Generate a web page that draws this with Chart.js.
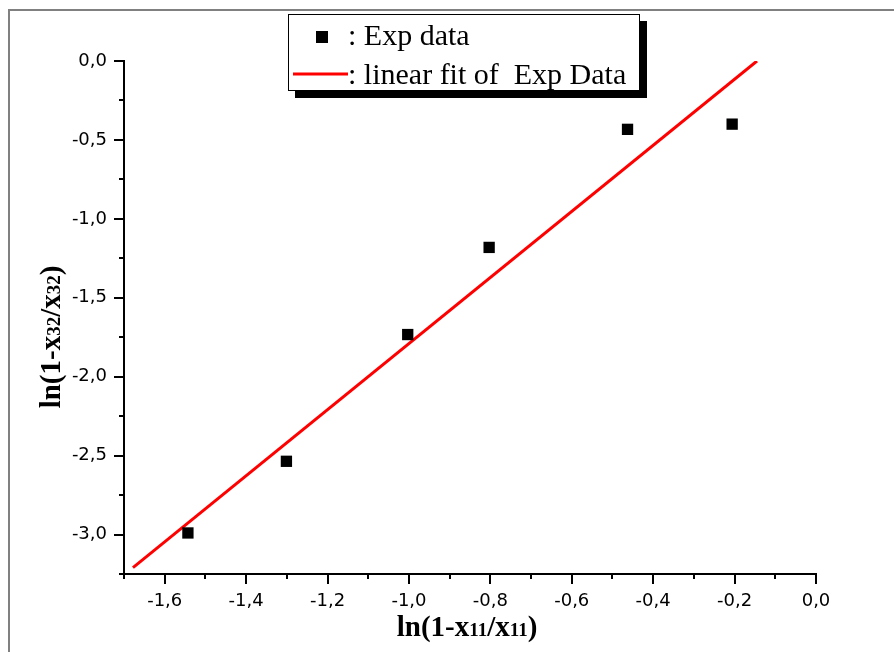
<!DOCTYPE html>
<html>
<head>
<meta charset="utf-8">
<script src="https://cdn.jsdelivr.net/npm/chart.js@4.4.1/dist/chart.umd.min.js"></script>
<style>
body { margin: 0; background: #fff; }
canvas { display: block; }
</style>
</head>
<body>
<canvas id="fitChart" width="894" height="652"></canvas>
<script>
// experimental points
const expX = [-1.543, -1.301, -1.003, -0.803, -0.463, -0.206];
const expY = [-2.99, -2.536, -1.733, -1.181, -0.433, -0.40];
// linear fit end points
const fitX = [-1.678, -0.145];
const fitY = [-3.21, 0.0];

const xTickLabels = [-1.6, -1.4, -1.2, -1.0, -0.8, -0.6, -0.4, -0.2, 0.0];
const yTickLabels = [0.0, -0.5, -1.0, -1.5, -2.0, -2.5, -3.0];
const legendLabels = [': Exp data', ': linear fit of  Exp Data'];

function fmt(v) {
    return v.toFixed(1).replace('.', ',');
}
function isLabel(list, v) {
    return list.some(t => Math.abs(t - v) < 1e-6);
}

const serif = '"Liberation Serif", "Times New Roman", serif';

function drawRich(ctx, parts, cx, y) {
    let total = 0;
    parts.forEach(p => {
        ctx.font = 'bold ' + p[1] + 'px ' + serif;
        p.w = ctx.measureText(p[0]).width;
        total += p.w;
    });
    let x = cx - total / 2;
    parts.forEach(p => {
        ctx.font = 'bold ' + p[1] + 'px ' + serif;
        ctx.fillText(p[0], x, y);
        x += p.w;
    });
}

// frame, tick marks, axis titles and legend
const decorations = {
    id: 'decorations',
    beforeDraw(chart) {
        const ctx = chart.ctx;
        ctx.save();
        ctx.strokeStyle = '#808080';
        ctx.lineWidth = 2;
        ctx.beginPath();
        ctx.moveTo(9, 652);
        ctx.lineTo(9, 10);
        ctx.lineTo(894, 10);
        ctx.stroke();
        ctx.restore();
    },
    afterDraw(chart) {
        const ctx = chart.ctx;
        const xs = chart.scales.x, ys = chart.scales.y;
        const area = chart.chartArea;
        ctx.save();
        ctx.strokeStyle = '#000';
        ctx.lineWidth = 2;
        ctx.beginPath();
        xs.ticks.forEach(t => {
            const px = Math.round(xs.getPixelForValue(t.value));
            const len = isLabel(xTickLabels, t.value) ? 10 : 5;
            ctx.moveTo(px, area.bottom);
            ctx.lineTo(px, area.bottom + len);
        });
        ys.ticks.forEach(t => {
            const py = Math.round(ys.getPixelForValue(t.value));
            const len = isLabel(yTickLabels, t.value) ? 10 : 5;
            ctx.moveTo(area.left, py);
            ctx.lineTo(area.left - len, py);
        });
        ctx.stroke();

        // axis titles
        ctx.fillStyle = '#000';
        ctx.textBaseline = 'alphabetic';
        ctx.textAlign = 'left';
        drawRich(ctx, [['ln(1-x', 29], ['11', 19], ['/x', 29], ['11', 19], [')', 29]], 467, 636);
        ctx.save();
        ctx.translate(60, 337);
        ctx.rotate(-Math.PI / 2);
        drawRich(ctx, [['ln(1-x', 29], ['32', 19], ['/x', 29], ['32', 19], [')', 29]], 0, 0);
        ctx.restore();

        // legend box with shadow
        ctx.fillStyle = '#000';
        ctx.fillRect(295, 21, 352, 77);
        ctx.fillStyle = '#fff';
        ctx.fillRect(288, 14, 352, 77);
        ctx.lineWidth = 1;
        ctx.strokeStyle = '#000';
        ctx.strokeRect(288.5, 14.5, 351, 76);

        ctx.fillStyle = '#000';
        ctx.fillRect(316, 31, 12, 12);
        ctx.strokeStyle = '#ff0000';
        ctx.lineWidth = 3;
        ctx.beginPath();
        ctx.moveTo(293, 74);
        ctx.lineTo(348, 74);
        ctx.stroke();

        ctx.fillStyle = '#000';
        ctx.font = '30px ' + serif;
        ctx.fillText(legendLabels[0], 348, 45);
        ctx.fillText(legendLabels[1], 348, 84);
        ctx.restore();
    }
};

const ctx = document.getElementById('fitChart').getContext('2d');
new Chart(ctx, {
    type: 'scatter',
    data: {
        datasets: [
            {
                label: 'Exp data',
                data: expX.map((x, i) => ({ x: x, y: expY[i] })),
                pointStyle: 'rect',
                pointRadius: 8,
                pointHoverRadius: 8,
                backgroundColor: '#000',
                borderColor: '#000',
                borderWidth: 0
            },
            {
                label: 'linear fit of Exp Data',
                type: 'line',
                data: fitX.map((x, i) => ({ x: x, y: fitY[i] })),
                borderColor: '#ff0000',
                borderWidth: 3,
                pointRadius: 0,
                fill: false
            }
        ]
    },
    options: {
        responsive: false,
        animation: false,
        layout: { padding: { left: 0, right: 78, top: 61, bottom: 0 } },
        plugins: {
            legend: { display: false },
            tooltip: { enabled: false }
        },
        scales: {
            x: {
                type: 'linear',
                min: -1.7,
                max: 0,
                afterFit: s => { s.height = 78; },
                border: { color: '#000', width: 2 },
                grid: { drawOnChartArea: false, drawTicks: false },
                ticks: {
                    stepSize: 0.1,
                    autoSkip: false,
                    maxRotation: 0,
                    padding: 17,
                    color: '#000',
                    font: { family: '"DejaVu Sans", sans-serif', size: 18 },
                    callback: v => isLabel(xTickLabels, v) ? fmt(v) : ''
                }
            },
            y: {
                type: 'linear',
                min: -3.25,
                max: 0,
                afterFit: s => { s.width = 124; },
                border: { color: '#000', width: 2 },
                grid: { drawOnChartArea: false, drawTicks: false },
                ticks: {
                    stepSize: 0.25,
                    autoSkip: false,
                    padding: 17,
                    color: '#000',
                    font: { family: '"DejaVu Sans", sans-serif', size: 18 },
                    callback: v => isLabel(yTickLabels, v) ? fmt(v) : ''
                }
            }
        }
    },
    plugins: [decorations]
});
</script>
</body>
</html>
